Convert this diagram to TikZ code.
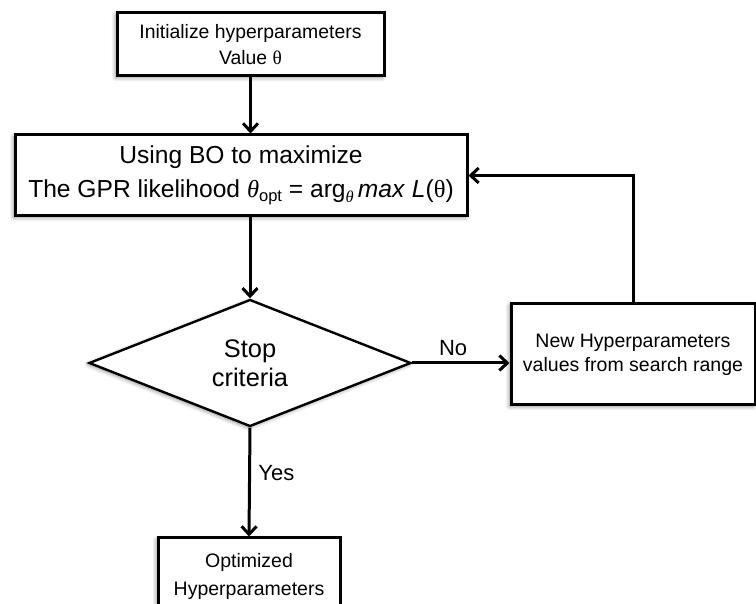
\documentclass[tikz,border=0pt]{standalone}
\usepackage{fontspec}
\setmainfont{Liberation Sans}
\newfontfamily\serifth{Liberation Serif}
\usetikzlibrary{shapes.geometric,arrows.meta,shadows.blur}
\newcommand{\thup}{{\serifth θ}}
\newcommand{\thit}{{\serifth\itshape θ}}
\begin{document}
\begin{tikzpicture}[x=1pt,y=1pt,
  shadowstyle/.style={blur shadow={shadow xshift=-1.5pt, shadow yshift=-1.5pt, shadow blur radius=4pt, shadow blur steps=6, shadow opacity=45}},
  boxstyle/.style={draw=black, line width=3pt, fill=white, align=center, inner sep=0pt, shadowstyle},
  flowline/.style={line width=3pt, -{Straight Barb[length=8pt,width=15pt,line width=3pt]}},
  lbl/.style={font=\fontsize{22}{26}\selectfont}
]
\useasboundingbox (0,0) rectangle (756,604);
\node[boxstyle, minimum width=267pt, minimum height=63pt, font=\fontsize{19.4}{26}\selectfont]
  (init) at (250.5,559.5) {Initialize hyperparameters\\Value \thup};
\node[boxstyle, minimum width=452pt, minimum height=81pt, font=\fontsize{24.6}{34}\selectfont]
  (bo) at (241,428.5) {Using BO to maximize\\The GPR likelihood \thit\raisebox{-0.3ex}{\fontsize{16.5}{18}\selectfont opt} = arg\raisebox{-0.35ex}{\fontsize{16.5}{18}\selectfont\thit}\,\textit{max} \textit{L}(\thup)};
\node[diamond, draw=black, line width=2.4pt, fill=white, inner sep=0pt, aspect=2.54,
  minimum width=322pt, minimum height=127pt, align=center, font=\fontsize{25.4}{29}\selectfont,
  shadowstyle]
  (stop) at (250,241) {Stop\\criteria};
\node[boxstyle, minimum width=244pt, minimum height=101pt, font=\fontsize{19.5}{24}\selectfont]
  (newhp) at (633,249.5) {New Hyperparameters\\values from search range};
\node[boxstyle, minimum width=182pt, minimum height=76pt, font=\fontsize{19.5}{28}\selectfont]
  (opt) at (249,28) {Optimized\\Hyperparameters};
\draw[flowline] (init.south) -- (init.south |- bo.north);
\draw[flowline] (stop.north |- bo.south) -- (stop.north);
\draw[flowline] (stop.south) -- node[lbl, right=4pt, pos=0.42] {Yes} (opt.north);
\draw[flowline] (stop.east) -- node[lbl, above=2pt, pos=0.42] {No} (stop.east -| newhp.west);
\draw[flowline] (newhp.north) |- (bo.east);
\end{tikzpicture}
\end{document}
